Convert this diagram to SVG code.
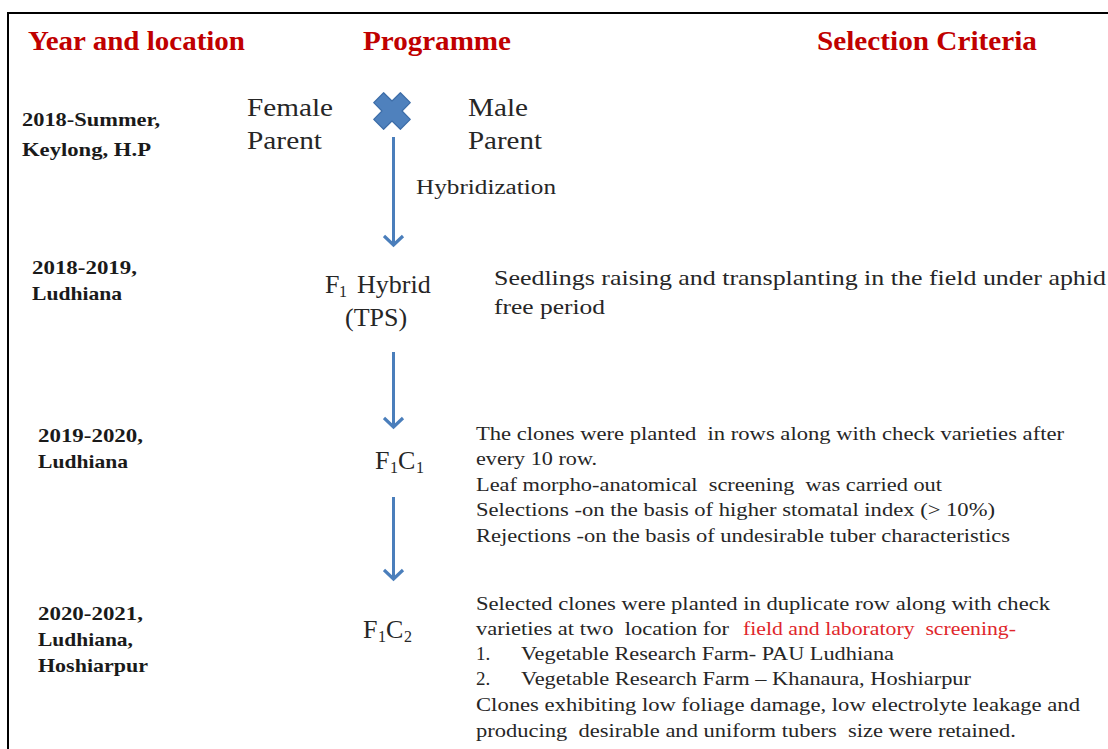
<svg xmlns="http://www.w3.org/2000/svg" width="1108" height="749" viewBox="0 0 1108 749">
<style>
text{white-space:pre}
.title{font-family:"Liberation Serif","Times New Roman",serif;font-weight:bold;font-size:27px;fill:#C00000}
.year{font-family:"Liberation Serif","Times New Roman",serif;font-weight:bold;font-size:19px;fill:#1a1a1a}
.prog{font-family:"Liberation Serif","Times New Roman",serif;font-size:26px;fill:#262626}
.sub{font-size:16px}
.lbl{font-family:"Liberation Serif","Times New Roman",serif;font-size:20px;fill:#262626}
.big{font-family:"Liberation Serif","Times New Roman",serif;font-size:22px;fill:#262626}
.body{font-family:"Liberation Serif","Times New Roman",serif;font-size:19px;fill:#262626}
.red{fill:#E0262B}
.arrow{stroke:#4A7EBB;stroke-width:3;fill:none}
</style>
<defs>
<marker id="chev" markerUnits="userSpaceOnUse" viewBox="0 0 22 22" refX="11" refY="11" markerWidth="22" markerHeight="22" orient="auto">
<path d="M2,1.5 L11,11 L2,20.5" fill="none" stroke="#4A7EBB" stroke-width="3.2"/>
</marker>
</defs>
<rect width="1108" height="749" fill="#ffffff"/>
<g id="frame">
<path d="M8,760 L8,13 L1120,13" fill="none" stroke="#000" stroke-width="2"/>
</g>
<g id="headers">
<text class="title" x="28" y="50" textLength="217" lengthAdjust="spacingAndGlyphs">Year and location</text>
<text class="title" x="363" y="50" textLength="148" lengthAdjust="spacingAndGlyphs">Programme</text>
<text class="title" x="817" y="50" textLength="220" lengthAdjust="spacingAndGlyphs">Selection Criteria</text>
</g>
<g id="years">
<text class="year" x="22" y="126" textLength="138" lengthAdjust="spacingAndGlyphs">2018-Summer,</text>
<text class="year" x="22" y="156" textLength="129" lengthAdjust="spacingAndGlyphs">Keylong, H.P</text>
<text class="year" x="32" y="274" textLength="105" lengthAdjust="spacingAndGlyphs">2018-2019,</text>
<text class="year" x="32" y="300" textLength="90" lengthAdjust="spacingAndGlyphs">Ludhiana</text>
<text class="year" x="38" y="442" textLength="105" lengthAdjust="spacingAndGlyphs">2019-2020,</text>
<text class="year" x="38" y="468" textLength="90" lengthAdjust="spacingAndGlyphs">Ludhiana</text>
<text class="year" x="38" y="620" textLength="105" lengthAdjust="spacingAndGlyphs">2020-2021,</text>
<text class="year" x="38" y="646" textLength="95" lengthAdjust="spacingAndGlyphs">Ludhiana,</text>
<text class="year" x="38" y="672" textLength="110" lengthAdjust="spacingAndGlyphs">Hoshiarpur</text>
</g>
<g id="parents">
<text class="prog" x="247" y="116" textLength="86" lengthAdjust="spacingAndGlyphs">Female</text>
<text class="prog" x="247" y="149" textLength="75" lengthAdjust="spacingAndGlyphs">Parent</text>
<text class="prog" x="468" y="116" textLength="60" lengthAdjust="spacingAndGlyphs">Male</text>
<text class="prog" x="468" y="149" textLength="74" lengthAdjust="spacingAndGlyphs">Parent</text>
<polygon id="cross" transform="translate(392,111) scale(1.18) translate(-392,-110)" points="392,101.5 399.1,94.5 407.5,102.9 400.5,110 407.5,117.1 399.1,125.5 392,118.5 384.9,125.5 376.5,117.1 383.5,110 376.5,102.9 384.9,94.5" fill="#4F81BD" stroke="#3D6DA8" stroke-width="1" stroke-linejoin="round"/>
</g>
<g id="connectors">
<path class="arrow" d="M393.5,137 L393.5,245" marker-end="url(#chev)"/>
<path class="arrow" d="M393.5,352 L393.5,427" marker-end="url(#chev)"/>
<path class="arrow" d="M393.5,497 L393.5,579" marker-end="url(#chev)"/>
<text class="lbl" x="416" y="194" textLength="140" lengthAdjust="spacingAndGlyphs">Hybridization</text>
</g>
<g id="f1hybrid">
<text class="prog" y="293" font-size="27"><tspan x="325">F</tspan><tspan class="sub" x="339" dy="4">1</tspan><tspan x="357" dy="-4">Hybrid</tspan></text>
<text class="prog" x="345" y="326" font-size="27">(TPS)</text>
</g>
<g id="f1c1">
<text class="prog" y="469"><tspan x="375">F</tspan><tspan class="sub" x="390" dy="4">1</tspan><tspan x="398" dy="-4">C</tspan><tspan class="sub" x="416" dy="4">1</tspan></text>
</g>
<g id="f1c2">
<text class="prog" y="638"><tspan x="363">F</tspan><tspan class="sub" x="378" dy="4">1</tspan><tspan x="386" dy="-4">C</tspan><tspan class="sub" x="404" dy="4">2</tspan></text>
</g>
<g id="criteria1">
<text class="big" x="494" y="285" textLength="612" lengthAdjust="spacingAndGlyphs">Seedlings raising and transplanting in the field under aphid</text>
<text class="big" x="494" y="314" textLength="111" lengthAdjust="spacingAndGlyphs">free period</text>
</g>
<g id="criteria2">
<text class="body" x="476" y="440" textLength="588" lengthAdjust="spacingAndGlyphs">The clones were planted  in rows along with check varieties after</text>
<text class="body" x="476" y="465" textLength="121" lengthAdjust="spacingAndGlyphs">every 10 row.</text>
<text class="body" x="476" y="491" textLength="466" lengthAdjust="spacingAndGlyphs">Leaf morpho-anatomical  screening  was carried out</text>
<text class="body" x="476" y="516" textLength="519" lengthAdjust="spacingAndGlyphs">Selections -on the basis of higher stomatal index (&gt; 10%)</text>
<text class="body" x="476" y="542" textLength="534" lengthAdjust="spacingAndGlyphs">Rejections -on the basis of undesirable tuber characteristics</text>
</g>
<g id="criteria3">
<text class="body" x="476" y="610" textLength="574" lengthAdjust="spacingAndGlyphs">Selected clones were planted in duplicate row along with check</text>
<text class="body" x="476" y="635" textLength="253" lengthAdjust="spacingAndGlyphs">varieties at two  location for</text>
<text class="body red" x="743" y="635" textLength="273" lengthAdjust="spacingAndGlyphs">field and laboratory  screening-</text>
<text class="body" x="476" y="660">1.</text>
<text class="body" x="521" y="660" textLength="373" lengthAdjust="spacingAndGlyphs">Vegetable Research Farm- PAU Ludhiana</text>
<text class="body" x="476" y="685">2.</text>
<text class="body" x="521" y="685" textLength="450" lengthAdjust="spacingAndGlyphs">Vegetable Research Farm – Khanaura, Hoshiarpur</text>
<text class="body" x="476" y="711" textLength="604" lengthAdjust="spacingAndGlyphs">Clones exhibiting low foliage damage, low electrolyte leakage and</text>
<text class="body" x="476" y="737" textLength="540" lengthAdjust="spacingAndGlyphs">producing  desirable and uniform tubers  size were retained.</text>
</g>
</svg>
